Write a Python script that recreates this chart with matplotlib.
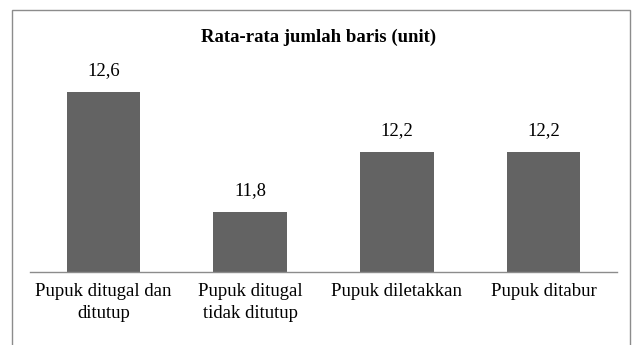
import matplotlib
matplotlib.use("Agg")
import matplotlib.pyplot as plt
from matplotlib.patches import Rectangle

# chart data
categories = ["Pupuk ditugal dan\nditutup", "Pupuk ditugal\ntidak ditutup",
              "Pupuk diletakkan", "Pupuk ditabur"]
values = [12.6, 11.8, 12.2, 12.2]
value_labels = ["12,6", "11,8", "12,2", "12,2"]
title = "Rata-rata jumlah baris (unit)"

plt.rcParams['font.family'] = ['Liberation Serif', 'DejaVu Serif']

fig = plt.figure(figsize=(6.37, 3.45), dpi=100)
fig.patch.set_facecolor('white')

# outer chart border (bottom edge falls off the image)
fig.patches.append(Rectangle((12 / 637, -0.05), (630 - 12) / 637, 1.05 - 10 / 345,
                             transform=fig.transFigure, fill=False,
                             edgecolor='#8c8c8c', linewidth=1.0))

ax = fig.add_axes([30 / 637, 1 - 272 / 345, (617 - 30) / 637, 210 / 345])
x = range(len(categories))
bars = ax.bar(x, values, width=0.5, color='#636363', bottom=0)
ax.set_ylim(11.4, 12.8)
ax.set_xlim(-0.5, len(categories) - 0.5)

for b, lab in zip(bars, value_labels):
    ax.annotate(lab, (b.get_x() + b.get_width() / 2, b.get_height()),
                xytext=(0, 15.5), textcoords='offset points',
                ha='center', va='center', fontsize=13.5)

for spine in ['top', 'right', 'left']:
    ax.spines[spine].set_visible(False)
ax.spines['bottom'].set_color('#8c8c8c')
ax.spines['bottom'].set_linewidth(1.0)
ax.set_yticks([])
ax.set_xticks(list(x))
ax.set_xticklabels(categories, fontsize=13.5, linespacing=1.4, va='top')
ax.tick_params(axis='x', length=0, pad=8)

fig.text(0.5, 1 - 37 / 345, title, ha='center', va='center',
         fontsize=13.5, fontweight='bold')

fig.savefig('out.png', dpi=100)
